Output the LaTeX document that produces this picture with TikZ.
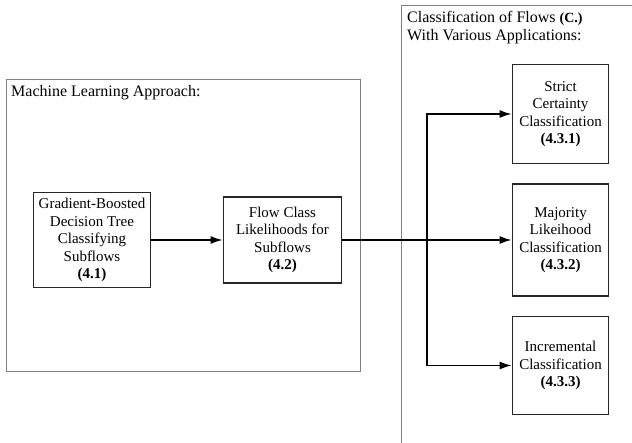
\documentclass[tikz,border=0pt]{standalone}
\usepackage{fontspec}
\setmainfont{Liberation Serif}
\usetikzlibrary{arrows.meta}

\begin{document}
\begin{tikzpicture}[x=1pt, y=-1pt,
	panel/.style={draw=gray, line width=0.9pt},
	title/.style={anchor=north west, inner sep=0pt, align=left, font=\fontsize{16}{18.5}\selectfont},
	stage/.style={draw=black!85, line width=1.8pt, align=center, inner sep=0pt, font=\fontsize{15}{17.5}\selectfont},
	flow/.style={line width=1.5pt, -{Latex[length=12pt, width=8pt]}}]
	\useasboundingbox (0,0) rectangle (632,443);
	\draw[panel] (6,79) rectangle (360,371);
	\draw[panel] (632,5) -- (401,5) -- (401,443);
	\node[title] (mlTitle) at (11,84.8) {Machine Learning Approach:};
	\node[title] (clsTitle) at (407,10.8) {Classification of Flows {\fontsize{14}{18.5}\selectfont\bfseries (C.)}\\With Various Applications:};
	\node[stage, minimum width=117pt, minimum height=95pt] (gbdt) at (92,240) {Gradient-Boosted\\Decision Tree\\Classifying\\Subflows\\\textbf{(4.1)}};
	\node[stage, minimum width=118pt, minimum height=86pt] (likeli) at (282.5,240) {Flow Class\\Likelihoods for\\Subflows\\\textbf{(4.2)}};
	\node[stage, minimum width=96pt, minimum height=99pt] (strict) at (560.5,114) {Strict\\Certainty\\Classification\\\textbf{(4.3.1)}};
	\node[stage, minimum width=96pt, minimum height=112pt] (majority) at (560.5,240) {Majority\\Likeihood\\Classification\\\textbf{(4.3.2)}};
	\node[stage, minimum width=96pt, minimum height=98pt] (increm) at (560.5,365.5) {Incremental\\Classification\\\textbf{(4.3.3)}};
	\coordinate (split) at (427,240);
	\draw[flow] (gbdt) -- (likeli);
	\draw[flow] (likeli) -- (majority);
	\draw[flow] (split) |- (strict);
	\draw[flow] (split) |- (increm);
\end{tikzpicture}
\end{document}
